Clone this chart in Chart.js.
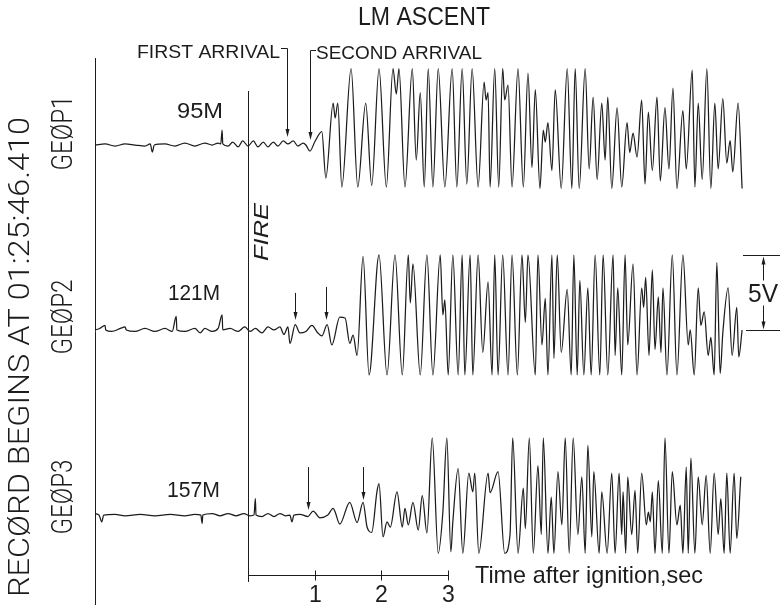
<!DOCTYPE html>
<html>
<head>
<meta charset="utf-8">
<title>LM ascent - geophone record</title>
<script src="https://cdn.jsdelivr.net/npm/chart.js@4.4.1/dist/chart.umd.min.js"></script>
<style>
  html, body { margin: 0; padding: 0; background: #fff; }
  #wrap { position: relative; width: 780px; height: 610px; }
</style>
</head>
<body>
<div id="wrap"><canvas id="chart"></canvas></div>
<script>
// Time is seconds after ignition, amplitude is volts about each trace's baseline.
const geop1Time = [-2.30,-2.15,-2.00,-1.85,-1.70,-1.55,-1.47,-1.44,-1.41,-1.25,-1.10,-0.95,-0.80,-0.65,-0.54,
  -0.45,-0.41,-0.39,-0.38,-0.30,-0.23,-0.15,-0.08,0.00,0.08,0.15,0.23,0.30,0.38,0.45,0.53,0.60,0.68,0.75,0.83,0.87,0.93,1.01,
  1.11,1.17,1.28,1.31,1.35,1.41,1.55,1.65,1.77,1.86,1.97,2.08,2.18,2.23,2.27,2.36,2.47,2.53,2.59,2.65,2.71,2.78,
  2.86,2.96,3.07,3.14,3.22,3.29,3.37,3.46,3.55,3.58,3.61,3.64,3.71,3.77,3.83,3.86,3.91,3.97,4.06,4.14,4.21,4.27,
  4.32,4.39,4.44,4.47,4.51,4.57,4.62,4.71,4.80,4.87,4.92,4.98,5.07,5.13,5.19,5.25,5.32,5.37,5.41,5.47,5.55,5.62,
  5.70,5.74,5.79,5.85,5.92,5.97,6.02,6.08,6.15,6.20,6.27,6.33,6.39,6.45,6.54,6.59,6.68,6.72,6.77,6.83,6.90,6.96,
  7.02,7.07,7.14,7.20,7.25,7.29,7.37,7.43];
const geop1Volts = [0,0.07,-0.07,0.07,0,-0.07,0.07,-0.47,0,0.07,-0.07,0.13,-0.07,0.13,0,
  0.13,0.07,1.0,0.07,-0.07,0.2,-0.13,0.27,-0.07,0.27,-0.13,0.2,-0.13,0.2,-0.07,0.27,0.07,0.27,-0.07,0.13,0,-0.4,0.27,
  0.9,-2.2,2.8,1.8,2.8,-2.8,5.1,-2.8,2.8,-2.7,5.1,-2.8,5.1,3.4,5.1,-2.8,5.1,-1.0,3.5,-2.8,5.1,-2.8,
  5.1,-2.8,5.1,-2.8,5.1,-2.6,5.1,-2.8,4.2,3.0,3.5,-2.8,5.1,-2.8,5.1,3.0,4.0,-2.8,5.1,-2.8,4.8,-1.5,
  3.7,-2.9,1.0,0.2,1.5,-1.7,3.7,-2.9,5.1,-2.9,5.1,-2.9,5.1,-1.6,3.2,-2.3,2.8,-1.0,3.2,-2.9,2.5,-2.8,
  1.5,-0.5,0.8,-0.8,3.0,-2.6,2.2,-1.7,3.2,-2.4,2.5,-1.6,3.8,-2.9,2.3,-1.6,5.0,-2.8,2.8,-2.3,5.1,-2.9,
  2.8,-1.6,3.1,-1.2,0.3,-1.8,2.8,-2.9];

const geop2Time = [-2.30,-2.23,-2.15,-2.14,-2.05,-1.92,-1.85,-1.83,-1.70,-1.55,-1.40,-1.25,-1.14,-1.08,-1.07,
  -0.95,-0.80,-0.72,-0.65,-0.54,-0.45,-0.39,-0.38,-0.27,-0.15,-0.05,0.03,0.11,0.21,0.30,0.39,0.48,0.54,0.60,0.63,
  0.71,0.78,0.87,0.96,1.05,1.11,1.19,1.26,1.38,1.46,1.53,1.58,1.64,
  1.73,1.82,1.97,2.09,2.21,2.32,2.41,2.44,2.48,2.59,2.69,2.78,2.89,2.93,2.96,3.01,3.08,3.16,3.22,3.26,
  3.34,3.38,3.46,3.53,3.61,3.67,3.71,3.76,3.83,3.91,3.97,
  4.05,4.12,4.17,4.21,4.32,4.36,4.42,4.47,4.51,4.57,4.60,4.65,4.71,4.80,4.86,4.90,4.95,4.99,5.05,5.11,
  5.16,5.22,5.29,5.34,5.41,5.49,5.52,5.56,5.62,5.67,5.71,5.79,5.85,5.92,5.95,5.98,6.03,6.08,6.12,6.17,
  6.21,6.24,6.30,6.38,6.45,6.54,6.62,6.65,6.71,6.77,6.81,6.86,6.92,6.96,7.01,7.05,7.10,7.14,7.22,7.28,
  7.35,7.38,7.43];
const geop2Volts = [0,0.1,0.3,0,-0.1,0.1,0.2,0,-0.1,0.1,-0.1,0.1,-0.1,0.9,0,
  -0.1,0.1,-0.2,0.1,-0.1,0.1,1.0,0,0.1,-0.1,0.2,-0.1,0.1,-0.2,0.2,0,0.2,-0.3,0.2,-0.9,
  0.35,-0.2,-0.1,0.3,-0.2,-0.4,0.35,-1.0,0.85,0.8,-0.9,-0.35,-1.7,
  4.9,-3.0,5.0,-3.0,5.0,-3.0,5.0,1.8,4.4,-3.0,5.0,-3.0,5.0,1.0,2.0,-3.0,5.0,-3.0,5.0,-3.0,
  5.0,-3.0,5.0,-1.5,3.2,-3.0,5.0,-3.0,5.0,-3.0,5.0,
  -3.0,5.0,0.5,5.0,-3.0,5.0,-1.0,2.1,-3.0,5.0,-1.9,5.0,-1.5,2.7,-3.0,5.0,-3.0,3.3,-3.0,2.8,
  -3.0,5.0,-3.0,5.0,-3.0,5.0,-1.7,2.8,-3.0,5.0,-1.0,4.4,-3.0,2.8,1.5,3.5,-1.7,4.0,-1.3,2.2,
  -1.5,2.8,-3.0,5.0,-3.0,5.0,-1.0,0.0,-3.0,2.8,0.3,1.2,-1.7,-0.5,-3.0,4.5,-2.9,-0.2,2.8,-1.7,
  1.5,-1.8,0];

const geop3Time = [-2.30,-2.24,-2.20,-2.17,-2.00,-1.85,-1.62,-1.40,-1.17,-0.95,-0.80,-0.71,-0.69,-0.68,-0.54,
  -0.42,-0.30,-0.18,-0.06,0.03,0.09,0.11,0.12,0.21,0.30,0.39,0.48,0.57,0.63,0.66,0.69,0.78,0.90,0.98,1.08,
  1.20,1.28,1.31,1.38,1.53,1.64,1.73,1.79,1.86,1.94,1.97,2.03,2.09,2.14,2.24,2.32,2.36,2.41,2.48,2.56,
  2.62,2.69,2.77,2.86,2.93,2.99,3.05,3.08,3.16,3.23,3.32,3.38,3.41,3.47,3.61,3.64,3.76,3.86,3.94,3.98,
  4.06,4.14,4.17,4.23,4.29,4.36,4.41,4.44,4.51,4.56,4.60,4.66,4.72,4.77,4.83,4.89,4.96,5.02,5.07,5.11,
  5.17,5.20,5.28,5.32,5.40,5.47,5.52,5.58,5.62,5.64,5.68,5.71,5.77,5.82,5.86,5.92,5.99,6.02,6.05,6.08,
  6.12,6.17,6.23,6.27,6.33,6.38,6.45,6.50,6.54,6.59,6.62,6.66,6.72,6.77,6.83,6.89,6.95,7.01,7.07,7.11,
  7.16,7.20,7.25,7.31,7.35,7.41];
const geop3Volts = [0.1,0,-0.45,0,0.05,-0.05,0.05,-0.05,0.05,-0.05,0.05,0,-0.55,0,0.1,
  -0.05,0.1,-0.05,0.1,-0.05,0,1.1,0,-0.1,0.1,-0.1,0.1,-0.05,0,-0.45,0,0.05,-0.1,0.27,-0.18,
  0,0.45,0.2,-0.6,0.85,-0.5,0.85,-0.8,-1.15,1.6,2.1,-1.45,-0.45,-0.8,1.55,-0.8,0.45,-0.65,0.85,-1.0,
  1.3,-1.2,5.15,-2.55,0.2,5.15,-2.45,-0.45,3.1,-2.55,2.8,1.55,2.8,-2.55,2.8,1.5,2.9,-2.55,-1.3,5.15,
  -2.55,1.8,-0.9,5.15,-2.55,3.3,-1.3,5.15,-2.55,1.2,-2.55,2.9,-0.65,5.15,-2.55,5.15,-1.3,2.55,-2.55,4.65,
  -1.45,2.9,-2.55,1.55,-2.55,2.8,-2.55,2.8,-1.3,1.55,-2.55,2.55,-1.3,1.65,-2.55,2.8,-0.65,0.2,-0.45,1.55,
  -2.55,2.3,-2.55,5.15,-2.55,2.9,-0.65,0.67,-2.55,3.2,-2.55,3.8,-2.55,2.55,-0.65,2.65,-2.55,2.8,-1.3,1.1,
  -2.55,2.8,-2.55,2.8,-1.55,2.55];

const traceNames = ['GEØP1', 'GEØP2', 'GEØP3'];
const traceRanges = ['95M', '121M', '157M'];
// first / second arrival picks, seconds after ignition
const arrivalTimes = [[0.59, 0.93], [0.71, 1.17], [0.90, 1.73]];
const timeTicks = [1, 2, 3];
const RECORD_START = -2.30;   // 01:25:46.410
const SCALE_BAR_VOLTS = 5;

// the three traces are stacked on one volt axis
const TRACE_OFFSETS = [31.0, 18.67, 6.33];
const FONT = '"Liberation Sans", Arial, sans-serif';
// the old plotter lettering on the vertical labels is thin
const THIN_FONT = 'Roboto, "Liberation Sans", sans-serif';
const INK = '#1c1c1c';

function toPoints(times, volts, offset) {
  const n = Math.min(times.length, volts.length);
  const pts = [];
  for (let i = 0; i < n; i++) pts.push({ x: times[i], y: volts[i] + offset });
  return pts;
}

function label(ctx, str, x, y, opts) {
  const o = Object.assign({ size: 18, width: null, angle: 0, align: 'left', style: '', family: FONT }, opts);
  ctx.save();
  ctx.translate(x, y);
  ctx.rotate(o.angle);
  ctx.font = (o.style ? o.style + ' ' : '') + o.size + 'px ' + o.family;
  ctx.textBaseline = 'alphabetic';
  ctx.textAlign = 'left';
  const w = ctx.measureText(str).width;
  const sx = o.width ? o.width / w : 1;
  const drawn = w * sx;
  if (o.align === 'center') ctx.translate(-drawn / 2, 0);
  else if (o.align === 'right') ctx.translate(-drawn, 0);
  ctx.scale(sx, 1);
  ctx.fillText(str, 0, 0);
  ctx.restore();
}

function seg(ctx, x1, y1, x2, y2) {
  ctx.beginPath();
  ctx.moveTo(x1, y1);
  ctx.lineTo(x2, y2);
  ctx.stroke();
}

function arrow(ctx, x, yFrom, yTo) {
  const dir = yTo > yFrom ? 1 : -1;
  seg(ctx, x, yFrom, x, yTo - dir * 5);
  ctx.beginPath();
  ctx.moveTo(x - 2, yTo - dir * 8);
  ctx.lineTo(x + 2, yTo - dir * 8);
  ctx.lineTo(x, yTo);
  ctx.closePath();
  ctx.fill();
}

const annotations = {
  id: 'seismo_annotations',
  afterDatasetsDraw(chart) {
    const { ctx, scales: { x, y } } = chart;
    const px = t => Math.round(x.getPixelForValue(t)) + 0.5;
    const py = v => y.getPixelForValue(v);
    ctx.save();
    ctx.strokeStyle = INK;
    ctx.fillStyle = INK;
    ctx.lineWidth = 1;

    // record start and ignition markers
    seg(ctx, px(RECORD_START), 58, px(RECORD_START), 605);
    seg(ctx, px(0), 91, px(0), 582);

    // time axis
    const axisY = 575.5;
    seg(ctx, px(0), axisY, px(timeTicks[timeTicks.length - 1]), axisY);
    timeTicks.forEach(t => {
      seg(ctx, px(t), axisY - 5, px(t), axisY + 5);
      label(ctx, String(t), px(t), 602, { size: 23, align: 'center' });
    });
    label(ctx, 'Time after ignition,sec', 475, 583, { size: 24, width: 228 });

    // arrival picks
    const [o1, o2, o3] = TRACE_OFFSETS;
    const [a1, a2, a3] = arrivalTimes;
    seg(ctx, 281, 48.5, px(a1[0]), 48.5);
    arrow(ctx, px(a1[0]), 48.5, py(o1 + 0.53));
    seg(ctx, px(a1[1]), 50.5, 316, 50.5);
    arrow(ctx, px(a1[1]), 50.5, py(o1 + 0.33));
    arrow(ctx, px(a2[0]), py(o2 + 2.47), py(o2 + 0.67));
    arrow(ctx, px(a2[1]), py(o2 + 2.87), py(o2 + 0.67));
    arrow(ctx, px(a3[0]), py(o3 + 3.2), py(o3 + 0.33));
    arrow(ctx, px(a3[1]), py(o3 + 3.2), py(o3 + 1.0));

    // 5 V scale bar beside GEOP2
    const barTop = Math.round(py(o2 + SCALE_BAR_VOLTS)) + 0.5;
    const barBot = Math.round(py(o2)) + 0.5;
    seg(ctx, 743, barTop, 780, barTop);
    seg(ctx, 746, barBot, 780, barBot);
    arrow(ctx, 763.5, barTop + 25, barTop + 1);
    arrow(ctx, 763.5, barBot - 25, barBot - 1);
    label(ctx, SCALE_BAR_VOLTS + 'V', 748, 302, { size: 26, width: 30 });

    // titles and trace labels
    label(ctx, 'LM ASCENT', 424, 25, { size: 25, width: 132, align: 'center' });
    label(ctx, 'FIRST ARRIVAL', 137, 58, { size: 18, width: 143 });
    label(ctx, 'SECOND ARRIVAL', 316, 59, { size: 18, width: 166 });
    label(ctx, 'FIRE', 268, 232, { size: 20, width: 58, angle: -Math.PI / 2, align: 'center', style: 'italic' });
    label(ctx, 'RECØRD BEGINS AT 01:25:46.410', 29, 597,
      { size: 29, width: 480, angle: -Math.PI / 2, style: '300', family: THIN_FONT });

    const nameCenters = [133, 317, 497];
    const rangeLeft = [177, 168, 167];
    const rangeBase = [118, 300, 497];
    const rangeWidth = [46, 52, 53];
    traceNames.forEach((name, i) => {
      label(ctx, name, 72, nameCenters[i],
        { size: 29, width: 75, angle: -Math.PI / 2, align: 'center', style: '300', family: THIN_FONT });
      label(ctx, traceRanges[i], rangeLeft[i], rangeBase[i], { size: 22, width: rangeWidth[i] });
    });
    ctx.restore();
  }
};

const bgPlugin = {
  id: 'white_bg',
  beforeDraw(chart) {
    const ctx = chart.ctx;
    ctx.save();
    ctx.fillStyle = '#fff';
    ctx.fillRect(0, 0, chart.width, chart.height);
    ctx.restore();
  }
};

const traceStyle = {
  borderColor: INK,
  borderWidth: 1.25,
  pointRadius: 0,
  cubicInterpolationMode: 'monotone',
  fill: false
};

new Chart(document.getElementById('chart'), {
  type: 'line',
  data: {
    datasets: [
      Object.assign({ label: traceNames[0], data: toPoints(geop1Time, geop1Volts, TRACE_OFFSETS[0]) }, traceStyle),
      Object.assign({ label: traceNames[1], data: toPoints(geop2Time, geop2Volts, TRACE_OFFSETS[1]) }, traceStyle),
      Object.assign({ label: traceNames[2], data: toPoints(geop3Time, geop3Volts, TRACE_OFFSETS[2]) }, traceStyle)
    ]
  },
  options: {
    animation: false,
    responsive: true,
    maintainAspectRatio: false,
    devicePixelRatio: 1,
    layout: { padding: 0 },
    events: [],
    plugins: { legend: { display: false }, tooltip: { enabled: false } },
    scales: {
      x: { type: 'linear', min: -3.73, max: 8.0, display: false },
      y: { type: 'linear', min: 0, max: 40.667, display: false }
    }
  },
  plugins: [bgPlugin, annotations]
});
</script>
</body>
</html>
